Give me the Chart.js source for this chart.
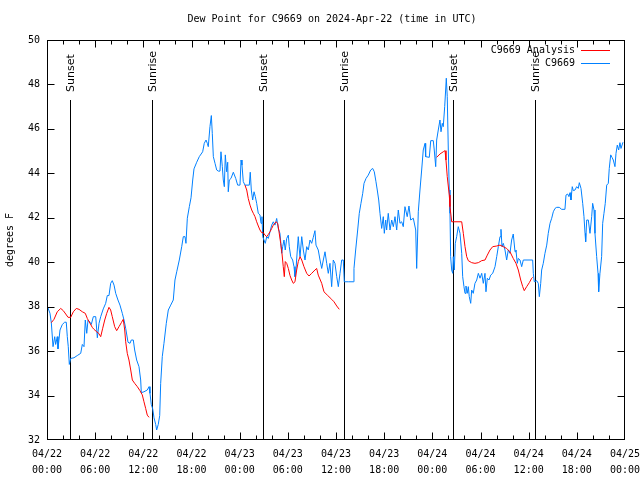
<!DOCTYPE html>
<html>
<head>
<meta charset="utf-8">
<script src="https://cdn.jsdelivr.net/npm/chart.js@4/dist/chart.umd.min.js"></script>
<style>
  html, body { margin: 0; padding: 0; background: #fff; }
  #wrap { width: 640px; height: 480px; }
</style>
</head>
<body>
<div id="wrap"><canvas id="myChart" width="640" height="480"></canvas></div>
<script>
// hours since 2024-04-22 00:00 UTC
let tickHours = [0, 6, 12, 18, 24, 30, 36, 42, 48, 54, 60, 66, 72];
let tickDates = ["04/22", "04/22", "04/22", "04/22", "04/23", "04/23", "04/23", "04/23", "04/24", "04/24", "04/24", "04/24", "04/25"];
let tickTimes = ["00:00", "06:00", "12:00", "18:00", "00:00", "06:00", "12:00", "18:00", "00:00", "06:00", "12:00", "18:00", "00:00"];

let sunNames = ["Sunset", "Sunrise", "Sunset", "Sunrise", "Sunset", "Sunrise"];
let sunHours = [2.9, 13.1, 26.85, 37.04, 50.6, 60.82];

// C9669 observations
let obsHours = [
  0.04, 0.37, 0.54, 0.75, 0.96, 1.08, 1.28, 1.37, 1.62, 1.91, 2.20, 2.40, 2.53, 2.65, 2.78, 2.95,
  3.36, 3.77, 4.20, 4.40, 4.61, 4.77, 4.95, 5.11, 5.36, 5.52, 5.77, 6.07, 6.27, 6.48, 6.69, 7.01,
  7.31, 7.51, 7.72, 7.93, 8.13, 8.35, 8.56, 8.84, 9.09, 9.38, 9.59, 9.80, 10.09, 10.34, 10.50, 10.75,
  10.92, 11.17, 11.46, 11.67, 11.75, 12.08, 12.49, 12.71, 12.83, 12.99, 13.17, 13.33, 13.54, 13.66, 13.86, 14.04,
  14.16, 14.36, 14.57, 14.86, 15.11, 15.41, 15.73, 15.94, 16.16, 16.48, 16.78, 16.98, 17.19, 17.31, 17.48, 17.73,
  17.94, 18.15, 18.31, 18.65, 18.97, 19.39, 19.59, 19.81, 19.97, 20.09, 20.30, 20.47, 20.59, 20.72, 20.93, 21.14,
  21.34, 21.55, 21.67, 21.84, 21.96, 22.09, 22.21, 22.38, 22.51, 22.58, 22.71, 22.92, 23.21, 23.51, 23.75, 24.04,
  24.17, 24.29, 24.45, 24.66, 25.20, 25.32, 25.45, 25.62, 25.79, 25.95, 26.12, 26.32, 26.53, 26.66, 26.78, 26.87,
  27.03, 27.19, 27.37, 27.57, 27.78, 27.99, 28.19, 28.40, 28.61, 28.81, 29.02, 29.24, 29.36, 29.52, 29.68, 29.86,
  30.06, 30.18, 30.36, 30.60, 30.77, 30.89, 31.01, 31.18, 31.30, 31.43, 31.52, 31.73, 31.93, 32.14, 32.35, 32.55,
  32.76, 32.97, 33.17, 33.38, 33.51, 33.79, 34.01, 34.22, 34.42, 34.63, 34.84, 35.04, 35.25, 35.46, 35.66, 35.87,
  36.09, 36.29, 36.50, 36.71, 36.91, 37.03, 37.53, 38.15, 38.24, 38.45, 38.70, 38.90, 39.11, 39.33, 39.49, 39.74,
  40.02, 40.32, 40.57, 40.77, 40.98, 41.14, 41.32, 41.48, 41.69, 41.89, 42.02, 42.19, 42.31, 42.51, 42.73, 42.94,
  43.14, 43.35, 43.56, 43.76, 43.97, 44.18, 44.38, 44.59, 44.87, 45.09, 45.30, 45.63, 45.93, 46.05, 46.25, 46.46,
  46.67, 46.87, 47.09, 47.17, 47.62, 47.80, 48.12, 48.24, 48.42, 48.54, 48.74, 48.95, 49.08, 49.24, 49.36, 49.54,
  49.74, 49.86, 49.99, 50.11, 50.20, 50.28, 50.41, 50.54, 50.61, 50.74, 50.86, 51.03, 51.23, 51.45, 51.66, 51.78,
  51.94, 52.07, 52.19, 52.35, 52.48, 52.60, 52.78, 52.90, 53.10, 53.31, 53.53, 53.73, 53.94, 54.15, 54.35, 54.56,
  54.68, 54.85, 55.06, 55.27, 55.52, 55.81, 56.02, 56.22, 56.43, 56.55, 56.68, 56.84, 57.05, 57.26, 57.46, 57.67,
  57.88, 58.08, 58.30, 58.42, 58.58, 58.71, 58.92, 59.13, 59.33, 60.50, 60.58, 60.70, 61.00, 61.20, 61.33, 61.50,
  61.62, 61.82, 62.03, 62.25, 62.44, 62.66, 62.87, 63.07, 63.28, 63.49, 63.81, 64.11, 64.52, 64.65, 64.86, 65.02,
  65.15, 65.27, 65.43, 65.56, 65.77, 65.98, 66.18, 66.31, 66.52, 66.73, 66.89, 67.02, 67.10, 67.23, 67.43, 67.64,
  67.85, 67.97, 68.14, 68.26, 68.47, 68.64, 68.72, 68.88, 69.09, 69.22, 69.38, 69.54, 69.72, 69.92, 70.04, 70.22,
  70.38, 70.54, 70.75, 70.88, 71.04, 71.21, 71.37, 71.50, 71.75
];
let obsValues = [
  38.03, 37.7, 37.27, 36.2, 36.65, 36.3, 36.65, 36.1, 36.95, 37.2, 37.3, 37.3, 36.65, 36.2, 35.4, 35.67,
  35.7, 35.8, 35.9, 36.3, 36.2, 37.4, 36.8, 37.4, 37.3, 37.2, 37.55, 37.55, 36.6, 37.25, 37.55, 37.9,
  38.15, 38.5, 38.5, 39.05, 39.17, 38.97, 38.6, 38.3, 38.07, 37.7, 37.4, 37.03, 36.4, 36.35, 36.5, 36.5,
  36.05, 35.6, 35.3, 34.7, 34.13, 34.17, 34.25, 34.4, 34.1, 33.6, 33.4, 33.0, 32.7, 32.45, 32.7, 33.1,
  34.55, 35.75, 36.35, 37.25, 37.85, 38.07, 38.3, 39.2, 39.57, 40.1, 40.7, 41.15, 41.15, 40.85, 41.98, 42.5,
  42.9, 43.7, 44.2, 44.5, 44.75, 44.97, 45.35, 45.5, 45.35, 45.2, 46.1, 46.6, 45.8, 44.75, 44.45, 44.15,
  44.1, 44.1, 44.97, 44.3, 43.7, 43.4, 44.83, 44.07, 44.5, 43.17, 43.7, 43.77, 44.05, 43.77, 43.47, 43.47,
  44.6, 44.37, 43.63, 43.47, 43.47, 44.05, 43.25, 42.8, 43.17, 42.95, 42.65, 42.2, 42.13, 41.75, 42.05, 41.15,
  41.0, 40.85, 41.15, 41.07, 41.37, 41.67, 41.82, 41.67, 41.97, 41.52, 41.3, 40.4, 40.7, 41.0, 40.55, 41.07,
  41.22, 40.7, 40.25, 40.1, 39.8, 39.35, 39.65, 40.55, 41.15, 40.55, 40.25, 41.15, 40.55, 40.1, 40.7, 40.55,
  41.0, 40.85, 41.12, 41.42, 40.77, 40.55, 40.1, 39.72, 40.1, 40.47, 39.95, 39.5, 39.95, 38.9, 40.1, 39.95,
  39.35, 38.9, 39.5, 40.1, 40.1, 39.12, 39.12, 39.12, 39.72, 40.55, 41.45, 42.2, 42.65, 43.1, 43.55, 43.77,
  43.92, 44.15, 44.22, 44.07, 43.62, 43.25, 42.8, 42.2, 41.52, 42.05, 41.3, 41.9, 41.45, 42.2, 41.45, 41.9,
  41.6, 42.05, 41.45, 42.35, 41.75, 41.82, 41.6, 42.5, 42.05, 42.53, 41.9, 41.98, 41.45, 39.72, 42.27, 43.25,
  44.15, 45.05, 45.35, 44.75, 44.72, 45.47, 45.47, 45.05, 44.3, 45.5, 45.95, 46.4, 45.87, 46.25, 46.1, 47.0,
  48.28, 47.45, 45.05, 43.25, 42.2, 40.25, 39.65, 39.5, 40.25, 39.65, 40.85, 41.15, 41.6, 41.3, 40.4, 39.35,
  38.9, 38.6, 38.93, 38.6, 38.9, 38.45, 38.15, 38.75, 38.6, 39.05, 39.2, 39.5, 39.28, 39.5, 39.05, 39.5,
  38.67, 39.28, 39.2, 39.42, 39.5, 39.8, 40.25, 40.7, 41.15, 41.48, 40.7, 40.85, 40.55, 40.1, 40.55, 40.4,
  41.0, 41.27, 40.47, 40.55, 39.95, 40.17, 40.1, 39.8, 40.1, 40.1, 39.5, 39.12, 39.17, 39.05, 38.45, 39.05,
  39.65, 39.95, 40.4, 40.77, 41.3, 41.75, 41.98, 42.27, 42.42, 42.47, 42.47, 42.38, 42.38, 43.02, 43.07, 42.95,
  43.13, 42.8, 43.4, 43.22, 43.25, 43.4, 43.32, 43.58, 43.32, 42.65, 42.05, 41.3, 40.92, 41.9, 41.9, 41.3,
  42.05, 42.65, 42.35, 41.3, 40.25, 39.5, 38.67, 39.5, 40.25, 41.75, 42.2, 42.65, 43.47, 43.55, 44.22, 44.83,
  44.72, 44.6, 44.3, 44.9, 45.27, 45.05, 45.38, 45.12, 45.4
];

// C9669 Analysis (null = no analysis)
let anaHours = [
  0.54, 0.87, 1.28, 1.71, 2.03, 2.33, 2.62, 2.95, 3.28, 3.65, 3.99, 4.40, 4.77, 5.02, 5.36, 5.64,
  5.85, 6.19, 6.44, 6.69, 6.94, 7.19, 7.44, 7.72, 7.93, 8.13, 8.43, 8.68, 8.97, 9.26, 9.50, 9.68,
  9.80, 10.00, 10.21, 10.43, 10.63, 10.92, 11.25, 11.58, 11.87, 12.08, 12.29, 12.49, 12.71, 12.83, 18.0,
  24.66, 24.88, 25.07, 25.29, 25.50, 25.70, 25.91, 26.12, 26.32, 26.53, 26.74, 26.94, 27.16, 27.37, 27.57, 27.78,
  27.99, 28.19, 28.53, 28.74, 28.90, 29.11, 29.27, 29.43, 29.56, 29.68, 29.86, 30.06, 30.27, 30.48, 30.68, 30.89,
  31.10, 31.30, 31.52, 31.73, 32.01, 32.35, 32.64, 32.97, 33.38, 33.59, 33.79, 34.22, 34.50, 34.92, 35.46, 35.75,
  36.09, 36.41, 42.0,
  48.54, 48.95, 49.36, 49.58, 49.70, 49.86, 50.04, 50.11, 50.20, 50.41, 51.66, 51.86, 52.07, 52.28, 52.48, 52.90,
  53.31, 53.73, 54.15, 54.56, 54.85, 55.18, 55.52, 56.02, 56.43, 56.84, 57.26, 57.67, 58.08, 58.42, 58.71, 59.01,
  59.26, 59.45, 59.75, 60.08, 60.38, 60.50
];
let anaValues = [
  37.28, 37.43, 37.77, 37.92, 37.82, 37.67, 37.52, 37.52, 37.77, 37.92, 37.88, 37.77, 37.7, 37.47, 37.25, 37.07,
  36.98, 36.87, 36.8, 36.65, 37.03, 37.4, 37.7, 37.97, 37.85, 37.55, 37.1, 36.92, 37.1, 37.28, 37.43, 36.95,
  36.42, 35.9, 35.6, 35.15, 34.7, 34.55, 34.4, 34.22, 34.03, 33.72, 33.42, 33.12, 33.02, 33.02, null,
  43.47, 43.25, 42.87, 42.57, 42.35, 42.2, 42.05, 41.82, 41.63, 41.45, 41.33, 41.33, 41.22, 41.15, 41.25, 41.37,
  41.52, 41.67, 41.82, 41.75, 41.37, 40.85, 40.4, 39.8, 39.35, 40.03, 39.95, 39.72, 39.4, 39.2, 39.05, 39.12,
  39.65, 40.03, 40.25, 40.1, 39.8, 39.5, 39.38, 39.5, 39.65, 39.72, 39.42, 39.05, 38.67, 38.52, 38.33, 38.22,
  38.03, 37.88, null,
  44.72, 44.87, 44.97, 45.02, 44.6, 43.85, 43.25, 43.02, 42.5, 41.82, 41.82, 41.3, 40.7, 40.25, 40.07, 39.98,
  39.95, 39.98, 40.07, 40.1, 40.32, 40.55, 40.7, 40.73, 40.77, 40.7, 40.62, 40.47, 40.17, 39.95, 39.65, 39.2,
  38.9, 38.72, 38.9, 39.08, 39.28, 39.32
];

let chartTitle = "Dew Point for C9669 on 2024-Apr-22 (time in UTC)";

const MONO = "'DejaVu Sans Mono', monospace";

function pairs(xs, ys) {
  return xs.map((h, i) => ({ x: h, y: ys[i] }));
}

const overlay = {
  id: 'overlay',
  beforeDatasetsDraw(chart) {
    const { ctx, chartArea: a, scales: { x } } = chart;
    ctx.save();
    ctx.strokeStyle = '#000';
    ctx.fillStyle = '#000';
    ctx.lineWidth = 1;

    // title, centred over the plot
    ctx.font = '10px ' + MONO;
    ctx.textAlign = 'center';
    ctx.textBaseline = 'middle';
    ctx.fillText(chartTitle, (a.left + a.right) / 2 - 4, 19);

    ctx.font = "11px 'DejaVu Sans', sans-serif";
    for (let i = 0; i < sunHours.length; i++) {
      const px = Math.round(x.getPixelForValue(sunHours[i])) + 0.5;
      ctx.beginPath();
      ctx.moveTo(px, a.top + 60);
      ctx.lineTo(px, a.bottom);
      ctx.stroke();
      ctx.save();
      ctx.translate(px + 1, a.top + 52);
      ctx.rotate(-Math.PI / 2);
      ctx.textAlign = 'left';
      ctx.textBaseline = 'middle';
      ctx.fillText(sunNames[i], 0, 0);
      ctx.restore();
    }
    ctx.restore();
  },
  afterDatasetsDraw(chart) {
    const { ctx, chartArea: a, scales: { x, y } } = chart;
    ctx.save();
    ctx.strokeStyle = '#000';
    ctx.lineWidth = 1;
    const L = Math.round(a.left) + 0.5, R = Math.round(a.right) - 0.5;
    const T = Math.round(a.top) + 0.5, B = Math.round(a.bottom) - 0.5;
    ctx.strokeRect(L, T, R - L, B - T);
    ctx.beginPath();
    for (let h = 2; h < 72; h += 2) {
      const px = Math.round(x.getPixelForValue(h)) + 0.5;
      const len = h % 6 === 0 ? 7 : 4;
      ctx.moveTo(px, B); ctx.lineTo(px, B - len);
      ctx.moveTo(px, T); ctx.lineTo(px, T + len);
    }
    for (let v = 34; v < 50; v += 2) {
      const py = Math.round(y.getPixelForValue(v)) + 0.5;
      ctx.moveTo(L, py); ctx.lineTo(L + 7, py);
      ctx.moveTo(R, py); ctx.lineTo(R - 7, py);
    }
    ctx.stroke();

    // key
    ctx.font = '10px ' + MONO;
    ctx.fillStyle = '#000';
    ctx.textAlign = 'right';
    ctx.textBaseline = 'middle';
    const keys = chart.data.datasets;
    keys.forEach((ds, i) => {
      const ky = a.top + 10 + i * 13;
      ctx.fillText(ds.label, a.right - 50, ky);
      ctx.strokeStyle = ds.borderColor;
      ctx.beginPath();
      ctx.moveTo(a.right - 44, Math.round(ky) + 0.5);
      ctx.lineTo(a.right - 15, Math.round(ky) + 0.5);
      ctx.stroke();
    });
    ctx.restore();
  }
};

let ctx = document.getElementById("myChart").getContext('2d');
let myChart = new Chart(ctx, {
  type: "line",
  data: {
    datasets: [{
      label: "C9669 Analysis",
      data: pairs(anaHours, anaValues),
      borderColor: "#ff0000",
      borderWidth: 1,
      pointRadius: 0,
      spanGaps: false,
      tension: 0
    }, {
      label: "C9669",
      data: pairs(obsHours, obsValues),
      borderColor: "#0080ff",
      borderWidth: 1,
      pointRadius: 0,
      tension: 0
    }]
  },
  options: {
    responsive: false,
    animation: false,
    events: [],
    layout: { padding: { left: 0, right: 15, top: 40, bottom: 0 } },
    plugins: {
      legend: { display: false },
      tooltip: { enabled: false },
      title: { display: false }
    },
    scales: {
      x: {
        type: 'linear',
        min: 0,
        max: 72,
        grid: { display: false, drawTicks: false },
        border: { display: false },
        afterFit: s => { s.height = 40; s.paddingLeft = 0; s.paddingRight = 0; },
        afterBuildTicks: s => { s.ticks = tickHours.map(v => ({ value: v })); },
        ticks: {
          autoSkip: false,
          maxRotation: 0,
          padding: 6,
          color: '#000',
          font: { family: MONO, size: 10, lineHeight: 1.6 },
          callback: (v) => {
            const i = tickHours.indexOf(v);
            return i < 0 ? '' : [tickDates[i], tickTimes[i]];
          }
        }
      },
      y: {
        min: 32,
        max: 50,
        grid: { display: false, drawTicks: false },
        border: { display: false },
        afterFit: s => { s.width = 47; s.paddingTop = 0; s.paddingBottom = 0; },
        ticks: {
          stepSize: 2,
          padding: 7,
          color: '#000',
          font: { family: MONO, size: 10 }
        },
        title: {
          display: true,
          text: 'degrees F',
          color: '#000',
          font: { family: MONO, size: 10 },
          padding: { top: 4, bottom: 0 }
        }
      }
    }
  },
  plugins: [overlay]
});
</script>
</body>
</html>
